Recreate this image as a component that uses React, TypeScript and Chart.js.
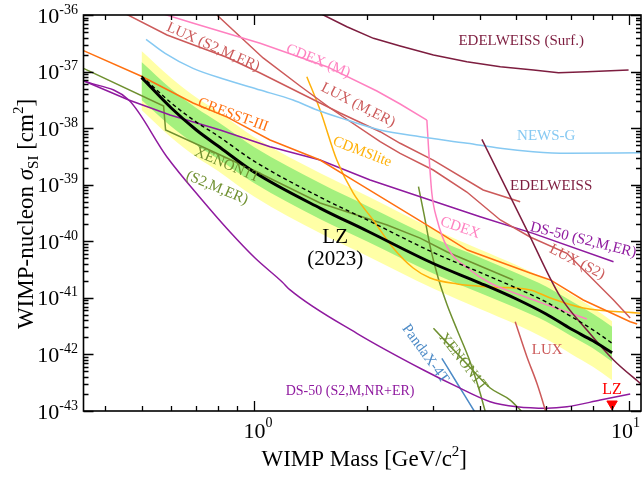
import React, { useEffect, useRef } from 'react';
import { Chart, registerables } from 'chart.js';
Chart.register(...registerables);

const X_MIN = 0.35;
const X_MAX = 10.75;
const Y_MIN = 1e-43;
const Y_MAX = 1e-36;

// ---- LZ (2023) result and sensitivity bands ----
const lzMass = [0.5, 0.6, 0.7, 0.8, 1, 1.5, 2, 3, 4, 5, 6, 7, 8, 9];
const lzObserved = [7.86e-38, 2.27e-38, 9.27e-39, 4.83e-39, 1.66e-39, 3.83e-40, 1.52e-40, 4.05e-41, 1.83e-41, 9.54e-42, 5.18e-42, 2.81e-42, 1.74e-42, 1.07e-42];
const lzMedian = [8.35e-38, 2.78e-38, 1.28e-38, 7.26e-39, 2.59e-39, 5.99e-40, 2.38e-40, 6.33e-41, 2.81e-41, 1.49e-41, 8.45e-42, 4.68e-42, 2.72e-42, 1.58e-42];
const lzPlus2 = [2.31e-37, 7.70e-38, 3.48e-38, 1.97e-38, 6.89e-39, 1.59e-39, 6.32e-40, 1.65e-40, 7.16e-41, 3.81e-41, 2.11e-41, 1.15e-41, 6.67e-42, 3.87e-42];
const lzPlus1 = [1.48e-37, 4.92e-38, 2.27e-38, 1.28e-38, 4.58e-39, 1.06e-39, 4.20e-40, 1.14e-40, 5.17e-41, 2.75e-41, 1.59e-41, 8.80e-42, 5.23e-42, 3.09e-42];
const lzMinus1 = [3.14e-38, 1.07e-38, 5.04e-39, 2.85e-39, 1.06e-39, 2.45e-40, 9.91e-41, 2.69e-41, 1.22e-41, 6.62e-42, 3.82e-42, 2.12e-42, 1.28e-42, 7.44e-43];
const lzMinus2 = [2.09e-38, 6.83e-39, 3.09e-39, 1.75e-39, 6.11e-40, 1.38e-40, 5.49e-41, 1.46e-41, 6.35e-42, 3.38e-42, 1.87e-42, 1.02e-42, 6.04e-43, 3.50e-43];
const lzMarkerMass = [9.0];
const lzMarkerSigma = [1.33e-43];

// ---- other experiments ----
const edsMass = [1.324, 1.528, 1.765, 2.078, 2.448, 3.004, 3.688, 4.53, 5.554, 6.477, 7.71, 9.96];
const edsSigma = [1.58e-36, 1.0e-36, 6.21e-37, 3.87e-37, 2.83e-37, 1.96e-37, 1.49e-37, 1.22e-37, 1.07e-37, 9.55e-38, 9.95e-38, 1.07e-37];

const edMass = [4.045, 5.333, 6.545, 7.71, 9.08, 10.83];
const edSigma = [6.35e-39, 1.58e-40, 1.05e-41, 2.70e-42, 7.97e-43, 2.88e-43];

const newsMass = [0.514, 0.578, 0.686, 0.844, 1.036, 1.268, 1.47, 1.768, 2.165, 2.769, 3.7, 4.53, 5.54, 6.83, 10.83];
const newsSigma = [3.72e-37, 2.10e-37, 1.14e-37, 7.10e-38, 4.72e-38, 3.14e-38, 2.09e-38, 1.39e-38, 9.27e-39, 7.06e-39, 5.40e-39, 4.40e-39, 3.83e-39, 3.59e-39, 3.68e-39];

const cdexMMass = [0.5606, 0.6876, 1.036, 1.561, 2.122, 2.448, 2.885];
const cdexMSigma = [1.085e-36, 7.13e-37, 3.16e-37, 1.22e-37, 4.53e-38, 2.67e-38, 1.39e-38];

const cdexMass = [2.885, 2.917, 2.974, 3.073, 3.263, 3.764, 4.256, 5.118, 6.16, 7.71];
const cdexSigma = [1.39e-38, 4.11e-39, 7.14e-40, 2.38e-40, 8.02e-41, 3.11e-41, 1.83e-41, 1.12e-41, 7.18e-42, 4.23e-42];

const luxS2MErMass = [0.4546, 0.5848, 0.7, 0.8404, 1.036, 1.324, 1.693, 2.165, 2.448, 2.999, 4.077, 5.118];
const luxS2MErSigma = [1.04e-36, 4.43e-37, 2.83e-37, 1.81e-37, 9.43e-38, 4.18e-38, 1.85e-38, 8.65e-39, 5.40e-39, 2.73e-39, 8.06e-40, 5.01e-40];

const luxMErMass = [0.794, 1.055, 1.324, 1.592, 2.165, 2.448, 2.999, 3.688, 4.53, 5.44, 6.82, 9.08, 10.06];
const luxMErSigma = [1.0e-36, 1.74e-37, 5.56e-38, 2.27e-38, 5.76e-39, 3.59e-39, 1.82e-39, 7.43e-40, 2.38e-40, 1.19e-40, 6.13e-41, 9.16e-42, 4.40e-42];

const luxMass = [4.964, 5.333, 5.671, 5.969, 6.07];
const luxSigma = [3.79e-42, 9.12e-43, 3.09e-43, 1.04e-43, 6.9e-44];

const cresstMass = [0.35, 0.498, 0.686, 0.846, 1.101, 1.497, 1.834, 2.652, 3.13, 3.7, 5.44, 6.16, 7.54, 10.06, 10.5];
const cresstSigma = [2.34e-37, 8.35e-38, 2.78e-38, 1.57e-38, 6.17e-39, 2.73e-39, 1.21e-39, 2.72e-40, 1.40e-40, 7.01e-41, 2.75e-41, 2.07e-41, 9.16e-42, 3.79e-42, 3.45e-42];

const cdmsMass = [1.38, 1.497, 1.659, 1.834, 2.074, 2.346, 2.652, 2.944, 3.475, 4.256, 5.44, 6.16, 7.54, 10.83];
const cdmsSigma = [8.12e-38, 2.09e-38, 2.73e-39, 7.14e-40, 2.38e-40, 7.61e-41, 3.37e-41, 2.24e-41, 1.76e-41, 1.56e-41, 1.38e-41, 9.94e-42, 6.62e-42, 5.33e-42];

const ds50ErMass = [0.35, 0.4622, 0.5957, 0.8098, 1.101, 1.497, 2.036, 2.769, 4.002, 5.54, 9.08];
const ds50ErSigma = [6.90e-38, 3.14e-38, 1.71e-38, 9.27e-39, 4.70e-39, 2.73e-39, 1.21e-39, 6.14e-40, 2.72e-40, 1.38e-40, 4.36e-41];

const ds50NrMass = [0.35, 0.4622, 0.5838, 0.7252, 0.8612, 1.004, 1.186, 1.245, 1.876, 2.825, 3.469, 4.256, 5.015, 6.031, 6.82, 8.37, 10.06];
const ds50NrSigma = [6.90e-38, 3.14e-38, 3.13e-39, 5.37e-40, 1.46e-40, 5.06e-41, 1.91e-41, 1.38e-41, 2.36e-42, 5.30e-43, 2.69e-43, 1.46e-43, 1.19e-43, 1.12e-43, 1.19e-43, 1.56e-43, 2.0e-43];

const xeS2Mass = [0.35, 0.5725, 0.5795, 0.992, 1.497, 2.26, 2.769, 3.268, 4.902];
const xeS2Sigma = [1.14e-37, 2.46e-38, 9.27e-39, 1.82e-39, 4.75e-40, 1.94e-40, 1.14e-40, 6.46e-41, 2.07e-41];

const xeMass = [2.74, 2.838, 2.944, 3.093, 3.268, 3.475, 3.764, 4.002, 4.127, 4.204];
const xeSigma = [9.22e-40, 2.91e-40, 8.02e-41, 2.24e-41, 7.47e-42, 2.70e-42, 7.35e-43, 2.08e-43, 1.0e-43, 6.93e-44];

const xe2Mass = [3.004, 3.606, 4.256, 4.813, 5.181];
const xe2Sigma = [2.90e-42, 7.97e-43, 2.55e-43, 1.56e-43, 9.6e-44];

const pandaMass = [3.163, 3.497, 3.858, 3.93];
const pandaSigma = [8.54e-43, 2.88e-43, 1.0e-43, 8.16e-44];

// ---- tick labels ----
const xTickDecades = [0, 1];
const yTickDecades = [-43, -42, -41, -40, -39, -38, -37, -36];

// ---- text annotations (anchored in data coordinates) ----
const annText = ['EDELWEISS (Surf.)', 'LUX (S2,M,ER)', 'CDEX (M)', 'LUX (M,ER)', 'NEWS-G', 'CRESST-III', 'CDMSlite', 'XENON1T', '(S2,M,ER)', 'EDELWEISS', 'DS-50 (S2,M,ER)', 'CDEX', 'LUX (S2)', 'LZ', '(2023)', 'PandaX-4T', 'XENON1T', 'LUX', 'DS-50 (S2,M,NR+ER)', 'LZ'];
const annMass = [5.15, 0.776, 1.479, 1.891, 6.006, 0.877, 1.938, 0.846, 0.795, 6.19, 7.54, 3.54, 7.26, 1.642, 1.642, 2.855, 3.606, 6.04, 1.8, 9.0];
const annSigma = [3.47e-37, 2.72e-37, 1.54e-37, 2.56e-38, 7.26e-39, 1.71e-38, 3.79e-39, 2.23e-39, 8.75e-40, 9.49e-40, 1.05e-40, 1.72e-40, 4.30e-41, 1.19e-40, 4.86e-41, 1.02e-42, 7.35e-43, 1.20e-42, 2.26e-43, 2.35e-43];

const C_EDEL = '#7d1d3f';
const C_LUX = '#cc5a5a';
const C_CDEX = '#ff80c0';
const C_NEWS = '#86c9f2';
const C_CRESST = '#ff7010';
const C_CDMS = '#ffb10a';
const C_DS50 = '#8f1a9f';
const C_XE = '#6f9030';
const C_PANDA = '#4c8ac6';
const C_YELLOW = '#ffffa6';
const C_GREEN = '#a4f07e';

const annColor = [C_EDEL, C_LUX, C_CDEX, C_LUX, C_NEWS, C_CRESST, C_CDMS, C_XE, C_XE, C_EDEL, C_DS50, C_CDEX, C_LUX, '#000', '#000', C_PANDA, C_XE, C_LUX, C_DS50, '#ff0000'];
const annAngle = [0, 24, 22, 27, 0, 20, 21, 23, 23, 0, 14, 19, 27, 0, 0, 54, 52, 0, 0, 0];
const annSize = [15, 15, 15, 15, 15, 15, 15, 15, 15, 15, 15, 15, 15, 21, 21, 15, 15, 15, 14, 16];

const SERIF = '"Liberation Serif", "Times New Roman", serif';

const zip = (m: number[], s: number[]) => m.map((v, i) => ({ x: v, y: s[i] }));

function curve(label: string, m: number[], s: number[], color: string, smooth: boolean, width = 1.5, dash: number[] = []) {
  return {
    type: 'line',
    label,
    data: zip(m, s),
    borderColor: color,
    borderWidth: width,
    borderDash: dash,
    pointRadius: 0,
    fill: false,
    tension: 0,
    cubicInterpolationMode: smooth ? 'monotone' : 'default',
  };
}

function band(label: string, m: number[], s: number[], color: string, fill: any) {
  return {
    type: 'line',
    label,
    data: zip(m, s),
    borderWidth: 0,
    borderColor: 'rgba(0,0,0,0)',
    backgroundColor: color,
    pointRadius: 0,
    fill,
    cubicInterpolationMode: 'monotone',
  };
}

function drawRich(ctx: CanvasRenderingContext2D, segs: any[], x: number, y: number) {
  let w = 0;
  for (const s of segs) { ctx.font = s.font; w += ctx.measureText(s.text).width; }
  let cx = x - w / 2;
  for (const s of segs) {
    ctx.font = s.font;
    ctx.fillText(s.text, cx, y + (s.dy || 0));
    cx += ctx.measureText(s.text).width;
  }
}

const framePlugin = {
  id: 'frameAndText',
  afterDatasetsDraw(chart: any) {
    const { ctx, chartArea: a, scales } = chart;
    const xs = scales.x;
    const ys = scales.y;
    ctx.save();

    // annotations
    ctx.textAlign = 'center';
    ctx.textBaseline = 'middle';
    annText.forEach((t, i) => {
      const px = xs.getPixelForValue(annMass[i]);
      const py = ys.getPixelForValue(annSigma[i]);
      ctx.save();
      ctx.translate(px, py);
      ctx.rotate((annAngle[i] * Math.PI) / 180);
      ctx.fillStyle = annColor[i];
      ctx.font = `${annSize[i]}px ${SERIF}`;
      ctx.fillText(t, 0, 0);
      ctx.restore();
    });

    // frame
    ctx.strokeStyle = '#000';
    ctx.lineWidth = 1.6;
    ctx.strokeRect(a.left, a.top, a.right - a.left, a.bottom - a.top);

    // ticks
    ctx.lineWidth = 1.3;
    ctx.beginPath();
    for (let e = -1; e <= 1; e++) {
      for (let k = 1; k <= 9; k++) {
        const v = k * Math.pow(10, e);
        if (v < X_MIN * 0.9999 || v > X_MAX * 1.0001) continue;
        const px = Math.round(xs.getPixelForValue(v)) + 0.5;
        const len = k === 1 ? 10 : 5;
        ctx.moveTo(px, a.bottom); ctx.lineTo(px, a.bottom - len);
        ctx.moveTo(px, a.top); ctx.lineTo(px, a.top + len);
      }
    }
    for (let e = -43; e <= -36; e++) {
      for (let k = 1; k <= 9; k++) {
        const v = k * Math.pow(10, e);
        if (v > Y_MAX * 1.0001 || v < Y_MIN * 0.9999) continue;
        const py = Math.round(ys.getPixelForValue(v)) + 0.5;
        const len = k === 1 ? 10 : 5;
        ctx.moveTo(a.left, py); ctx.lineTo(a.left + len, py);
        ctx.moveTo(a.right, py); ctx.lineTo(a.right - len, py);
      }
    }
    ctx.stroke();

    // tick labels
    ctx.fillStyle = '#000';
    ctx.textAlign = 'left';
    ctx.textBaseline = 'alphabetic';
    const bigFont = `22px ${SERIF}`;
    const smallFont = `14px ${SERIF}`;
    yTickDecades.forEach((e) => {
      const py = ys.getPixelForValue(Math.pow(10, e));
      const exp = String(e);
      ctx.font = smallFont;
      const we = ctx.measureText(exp).width;
      ctx.font = bigFont;
      const wb = ctx.measureText('10').width;
      const right = 78;
      ctx.fillText('10', right - we - wb, py + 7.5);
      ctx.font = smallFont;
      ctx.fillText(exp, right - we, py - 1.5);
    });
    xTickDecades.forEach((e) => {
      const px = xs.getPixelForValue(Math.pow(10, e));
      const exp = String(e);
      ctx.font = smallFont;
      const we = ctx.measureText(exp).width;
      ctx.font = bigFont;
      const wb = ctx.measureText('10').width;
      let start = px - wb / 2;
      if (start + wb + we > 640) start = 640 - wb - we;
      ctx.fillText('10', start, a.bottom + 27);
      ctx.font = smallFont;
      ctx.fillText(exp, start + wb, a.bottom + 16);
    });

    // axis titles
    const tf = `23px ${SERIF}`;
    const tfs = `15px ${SERIF}`;
    drawRich(ctx, [
      { text: 'WIMP Mass [GeV/c', font: tf },
      { text: '2', font: tfs, dy: -10 },
      { text: ']', font: tf },
    ], (a.left + a.right) / 2 + 2, 466);

    ctx.save();
    ctx.translate(33, (a.top + a.bottom) / 2 + 1);
    ctx.rotate(-Math.PI / 2);
    drawRich(ctx, [
      { text: 'WIMP-nucleon ', font: tf },
      { text: 'σ', font: `italic 23px ${SERIF}` },
      { text: 'SI', font: tfs, dy: 5 },
      { text: ' [cm', font: tf },
      { text: '2', font: tfs, dy: -10 },
      { text: ']', font: tf },
    ], 0, 0);
    ctx.restore();

    ctx.restore();
  },
};

export default function App() {
  const ref = useRef<HTMLCanvasElement>(null);
  useEffect(() => {
    const datasets: any[] = [
      curve('LZ (2023)', lzMass, lzObserved, '#000', true, 3),
      curve('LZ median', lzMass, lzMedian, '#000', true, 1.4, [4, 3]),
      {
        type: 'line',
        label: 'LZ marker',
        data: zip(lzMarkerMass, lzMarkerSigma),
        showLine: false,
        pointStyle: 'triangle',
        rotation: 180,
        pointRadius: 6,
        backgroundColor: '#ff0000',
        borderColor: '#ff0000',
        borderWidth: 1,
        clip: false,
      },
      curve('EDELWEISS (Surf.)', edsMass, edsSigma, C_EDEL, false),
      curve('EDELWEISS', edMass, edSigma, C_EDEL, true),
      curve('NEWS-G', newsMass, newsSigma, C_NEWS, true),
      curve('CDEX (M)', cdexMMass, cdexMSigma, C_CDEX, false),
      curve('CDEX', cdexMass, cdexSigma, C_CDEX, true),
      curve('LUX (S2,M,ER)', luxS2MErMass, luxS2MErSigma, C_LUX, false),
      curve('LUX (M,ER)', luxMErMass, luxMErSigma, C_LUX, false),
      curve('LUX', luxMass, luxSigma, C_LUX, true),
      curve('CRESST-III', cresstMass, cresstSigma, C_CRESST, false),
      curve('CDMSlite', cdmsMass, cdmsSigma, C_CDMS, true),
      curve('DS-50 (S2,M,ER)', ds50ErMass, ds50ErSigma, C_DS50, false),
      curve('DS-50 (S2,M,NR+ER)', ds50NrMass, ds50NrSigma, C_DS50, true),
      curve('XENON1T (S2,M,ER)', xeS2Mass, xeS2Sigma, C_XE, false),
      curve('XENON1T', xeMass, xeSigma, C_XE, true),
      curve('XENON1T b', xe2Mass, xe2Sigma, C_XE, true),
      curve('PandaX-4T', pandaMass, pandaSigma, C_PANDA, true),
      band('+1σ', lzMass, lzPlus1, C_GREEN, '+1'),
      band('-1σ', lzMass, lzMinus1, C_GREEN, false),
      band('+2σ', lzMass, lzPlus2, C_YELLOW, '+1'),
      band('-2σ', lzMass, lzMinus2, C_YELLOW, false),
    ];
    const chart = new Chart(ref.current as HTMLCanvasElement, {
      type: 'line',
      data: { datasets },
      options: {
        animation: false,
        responsive: false,
        maintainAspectRatio: false,
        layout: { autoPadding: false, padding: { left: 83.5, right: 1, top: 15, bottom: 67 } },
        scales: {
          x: { type: 'logarithmic', min: X_MIN, max: X_MAX, display: false },
          y: { type: 'logarithmic', min: Y_MIN, max: Y_MAX, display: false },
        },
        plugins: {
          legend: { display: false },
          tooltip: { enabled: false },
          filler: { drawTime: 'beforeDatasetsDraw', propagate: false },
        },
        elements: { point: { radius: 0 } },
      } as any,
      plugins: [framePlugin],
    } as any);
    return () => chart.destroy();
  }, []);
  return (
    <canvas
      ref={ref}
      width={642}
      height={478}
      style={{ position: 'absolute', left: 0, top: 0, width: 642, height: 478, background: '#fff' }}
    />
  );
}
